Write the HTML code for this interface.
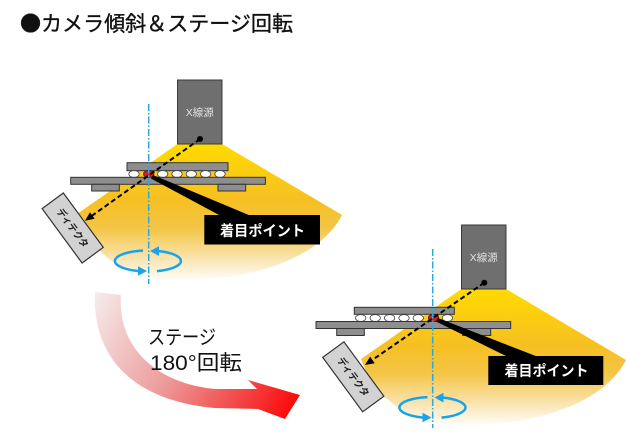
<!DOCTYPE html>
<html><head><meta charset="utf-8"><style>
html,body{margin:0;padding:0;background:#fff;}
svg{display:block;}
text{font-family:"Liberation Sans","Noto Sans CJK JP",sans-serif;}
</style></head><body>
<svg width="626" height="444" viewBox="0 0 626 444" xmlns="http://www.w3.org/2000/svg">
<defs>
<linearGradient id="cone1" gradientUnits="userSpaceOnUse" x1="0" y1="144" x2="0" y2="282">
<stop offset="0" stop-color="#FFDA00"/>
<stop offset="0.42" stop-color="#F6BF24"/>
<stop offset="0.62" stop-color="#F4C649"/>
<stop offset="0.82" stop-color="#F9E3AC"/>
<stop offset="1" stop-color="#FFFFFF"/>
</linearGradient>
<linearGradient id="cone2" gradientUnits="userSpaceOnUse" x1="0" y1="289" x2="0" y2="427">
<stop offset="0" stop-color="#FFDA00"/>
<stop offset="0.42" stop-color="#F6BF24"/>
<stop offset="0.62" stop-color="#F4C649"/>
<stop offset="0.82" stop-color="#F9E3AC"/>
<stop offset="1" stop-color="#FFFFFF"/>
</linearGradient>
<linearGradient id="redarr" gradientUnits="userSpaceOnUse" x1="95" y1="292" x2="300" y2="410">
<stop offset="0" stop-color="#F5ECEC"/>
<stop offset="0.45" stop-color="#EE9A9A"/>
<stop offset="0.8" stop-color="#F43A3A"/>
<stop offset="1" stop-color="#FF0000"/>
</linearGradient>
</defs>

<!-- Title -->
<text x="20" y="31" font-size="21" fill="#111" stroke="#111" stroke-width="0.35" style="font-family:'Noto Sans CJK JP','Liberation Sans',sans-serif" textLength="273" lengthAdjust="spacingAndGlyphs">●カメラ傾斜＆ステージ回転</text>

<!-- ===== Diagram 1 ===== -->
<path d="M177.5,144 L222,144 L342,215 C318,262 240,284 165,279 C120,276 90,250 77,214 Z" fill="url(#cone1)"/>
<rect x="177.5" y="80" width="44.5" height="64" fill="#6F6F6F" stroke="#3A3A3A" stroke-width="1"/>
<text x="199.8" y="116" font-size="10.5" fill="#E2E2E2" text-anchor="middle">X線源</text>

<!-- stage 1 -->
<rect x="127" y="162.7" width="101" height="8" fill="#8E8E8E" stroke="#333" stroke-width="1"/>
<g stroke="#444" stroke-width="0.8" fill="#FFFFFF">
<ellipse cx="134" cy="174" rx="5.2" ry="3.4"/>
<ellipse cx="162.7" cy="174" rx="5.2" ry="3.4"/>
<ellipse cx="177" cy="174" rx="5.2" ry="3.4"/>
<ellipse cx="191.3" cy="174" rx="5.2" ry="3.4"/>
<ellipse cx="205.6" cy="174" rx="5.2" ry="3.4"/>
<ellipse cx="220" cy="174" rx="5.2" ry="3.4"/>
</g>
<ellipse cx="148.7" cy="174" rx="5.2" ry="3.6" fill="#E01818" stroke="#551010" stroke-width="0.8"/>
<rect x="70.7" y="177.3" width="194.7" height="7" fill="#8E8E8E" stroke="#333" stroke-width="1"/>
<rect x="91.7" y="184.3" width="27.6" height="6.7" fill="#8E8E8E" stroke="#333" stroke-width="1"/>
<rect x="218" y="184.3" width="27.7" height="6.7" fill="#8E8E8E" stroke="#333" stroke-width="1"/>

<!-- callout 1 -->
<polygon points="153,175 250,215.5 220,215.5 151,178.5" fill="#000"/>
<rect x="204.3" y="215" width="115.7" height="29.5" fill="#000"/>
<text x="262.5" y="236" font-size="14.5" font-weight="bold" fill="#FFF" text-anchor="middle" textLength="85" lengthAdjust="spacingAndGlyphs">着目ポイント</text>

<!-- detector 1 -->
<g transform="translate(72.7,228) rotate(53.7)">
<rect x="-33.75" y="-13.15" width="67.5" height="26.3" fill="#D2D2D2" stroke="#333" stroke-width="1.2"/>
<text x="0" y="3.5" font-size="10" font-weight="bold" fill="#222" text-anchor="middle" textLength="46" lengthAdjust="spacingAndGlyphs">ディテクタ</text>
</g>

<!-- dashed ray 1 -->
<line x1="200" y1="139" x2="92.3" y2="215.5" stroke="#000" stroke-width="2" stroke-dasharray="5 3"/>
<polygon points="85,220.7 94.6,218.8 90,212.2" fill="#000"/>
<circle cx="200" cy="139" r="3" fill="#000"/>

<!-- axis 1 -->
<line x1="148.7" y1="104" x2="148.7" y2="284" stroke="#2AA8E0" stroke-width="1.5" stroke-dasharray="7 2 1.5 2"/>

<!-- rotation 1 -->
<g fill="none" stroke="#1AA3E8" stroke-width="2.5">
<path d="M157,271.1 A33,10.5 0 0 0 158,251"/>
<path d="M143,250.6 A33,10.5 0 0 0 138,271"/>
</g>
<polygon points="150,251 159,246.3 159,256" fill="#1AA3E8"/>
<polygon points="147,271 138,266.3 138,275.8" fill="#1AA3E8"/>

<!-- ===== Red arrow ===== -->
<path d="M95,292 C92,350 125,400 215,408 L258,409 L285,419 L300,395 L248,380 L257,389 L215,389 C160,384 117,350 121,295 Z" fill="url(#redarr)"/>
<text x="148" y="344" font-size="20" fill="#111" textLength="68" lengthAdjust="spacingAndGlyphs">ステージ</text>
<text x="150" y="370" font-size="21" fill="#111" textLength="92" lengthAdjust="spacingAndGlyphs">180°回転</text>

<!-- ===== Diagram 2 ===== -->
<path d="M461.5,289 L506,289 L626,360 C602,407 524,429 449,424 C404,421 374,395 361,359 Z" fill="url(#cone2)"/>
<rect x="461.5" y="225" width="44.5" height="64" fill="#6F6F6F" stroke="#3A3A3A" stroke-width="1"/>
<text x="483.8" y="261" font-size="10.5" fill="#E2E2E2" text-anchor="middle">X線源</text>

<!-- stage 2 (mirrored) -->
<rect x="354.3" y="307.3" width="100" height="7" fill="#8E8E8E" stroke="#333" stroke-width="1"/>
<g stroke="#444" stroke-width="0.8" fill="#FFFFFF">
<ellipse cx="360.7" cy="318" rx="5.2" ry="3.4"/>
<ellipse cx="375.2" cy="318" rx="5.2" ry="3.4"/>
<ellipse cx="389.6" cy="318" rx="5.2" ry="3.4"/>
<ellipse cx="404" cy="318" rx="5.2" ry="3.4"/>
<ellipse cx="418.3" cy="318" rx="5.2" ry="3.4"/>
<ellipse cx="447.4" cy="318" rx="5.2" ry="3.4"/>
</g>
<ellipse cx="433.5" cy="318" rx="5.2" ry="3.6" fill="#E01818" stroke="#551010" stroke-width="0.8"/>
<rect x="316" y="321.5" width="194.7" height="7" fill="#8E8E8E" stroke="#333" stroke-width="1"/>
<rect x="336.7" y="328.5" width="27.6" height="7" fill="#8E8E8E" stroke="#333" stroke-width="1"/>
<rect x="462.7" y="328.5" width="28" height="7" fill="#8E8E8E" stroke="#333" stroke-width="1"/>

<!-- callout 2 -->
<polygon points="438,318 537,356.5 507,356.5 436,321.5" fill="#000"/>
<rect x="488.3" y="356" width="115" height="29" fill="#000"/>
<text x="546.5" y="376" font-size="14.5" font-weight="bold" fill="#FFF" text-anchor="middle" textLength="84" lengthAdjust="spacingAndGlyphs">着目ポイント</text>

<!-- detector 2 -->
<g transform="translate(353.3,376.8) rotate(53.7)">
<rect x="-33.75" y="-13.15" width="67.5" height="26.3" fill="#D2D2D2" stroke="#333" stroke-width="1.2"/>
<text x="0" y="3.5" font-size="10" font-weight="bold" fill="#222" text-anchor="middle" textLength="46" lengthAdjust="spacingAndGlyphs">ディテクタ</text>
</g>

<!-- dashed ray 2 -->
<line x1="484.3" y1="282.7" x2="372.4" y2="359.9" stroke="#000" stroke-width="2" stroke-dasharray="5 3"/>
<polygon points="365,365 374.7,363.2 370.1,356.6" fill="#000"/>
<circle cx="484.3" cy="282.7" r="3" fill="#000"/>

<!-- axis 2 -->
<line x1="432.7" y1="249" x2="432.7" y2="428" stroke="#2AA8E0" stroke-width="1.5" stroke-dasharray="7 2 1.5 2"/>

<!-- rotation 2 -->
<g transform="translate(284.5,146.5)">
<g fill="none" stroke="#1AA3E8" stroke-width="2.5">
<path d="M157,271.1 A33,10.5 0 0 0 158,251"/>
<path d="M143,250.6 A33,10.5 0 0 0 138,271"/>
</g>
<polygon points="150,251 159,246.3 159,256" fill="#1AA3E8"/>
<polygon points="147,271 138,266.3 138,275.8" fill="#1AA3E8"/>
</g>
</svg>
</body></html>
